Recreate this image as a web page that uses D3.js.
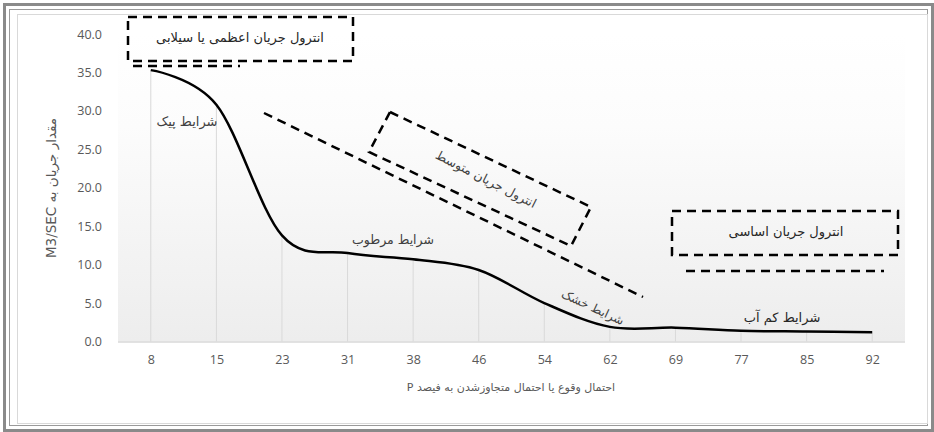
<!DOCTYPE html>
<html><head><meta charset="utf-8">
<script src="https://cdn.jsdelivr.net/npm/d3@7"></script>
<style>
html,body{margin:0;padding:0;background:#fff;}
svg{display:block;}
.fa{font-family:"DejaVu Sans",sans-serif;direction:rtl;unicode-bidi:embed;}
</style></head>
<body>
<svg id="chart" width="934" height="432"></svg>
<script>
// ---- data ----
const categories = ["8","15","23","31","38","46","54","62","69","77","85","92"];
const flow = [35.3, 30.8, 13.8, 11.5, 10.7, 9.3, 5.0, 1.9, 1.8, 1.4, 1.3, 1.2];
const yTicks = [0, 5, 10, 15, 20, 25, 30, 35, 40];
const yTitle = "مقدار جریان به M3/SEC";
const xTitle = "احتمال وقوع یا احتمال متجاوزشدن به فیصد P";
const zoneLabels = ["انترول جریان اعظمی یا سیلابی", "انترول جریان متوسط", "انترول جریان اساسی"];
const stateLabels = ["شرایط پیک", "شرایط مرطوب", "شرایط خشک", "شرایط کم آب"];

// ---- layout ----
const W = 934, H = 432;
const plot = {left:118, right:905, top:34, bottom:341.5};
const svg = d3.select("#chart");

// frame
svg.append("rect").attr("x",4.5).attr("y",4.5).attr("width",W-6).attr("height",H-6)
  .attr("fill","none").attr("stroke","#8a8a8a").attr("stroke-width",3);
svg.append("rect").attr("x",9.5).attr("y",9.5).attr("width",W-16).attr("height",H-16)
  .attr("fill","none").attr("stroke","#9a9a9a").attr("stroke-width",1);
svg.append("rect").attr("x",17.5).attr("y",14.5).attr("width",910).attr("height",409)
  .attr("fill","#fff").attr("stroke","#d9d9d9").attr("stroke-width",1);

// gradient
const defs = svg.append("defs");
const g = defs.append("linearGradient").attr("id","bg").attr("x1",0).attr("y1",0).attr("x2",0).attr("y2",1);
g.append("stop").attr("offset","0").attr("stop-color","#ffffff");
g.append("stop").attr("offset","0.3").attr("stop-color","#fcfcfc");
g.append("stop").attr("offset","1").attr("stop-color","#ededed");
svg.append("rect").attr("x",plot.left).attr("y",plot.top).attr("width",plot.right-plot.left)
  .attr("height",plot.bottom-plot.top).attr("fill","url(#bg)");

const x = d3.scaleBand().domain(categories).range([plot.left, plot.right]).padding(0);
const cx = c => x(c) + x.bandwidth()/2;
const y = d3.scaleLinear().domain([0,40]).range([plot.bottom, plot.top]);

const pts = categories.map((c,i)=>({c, v:flow[i]}));

// drop lines
svg.append("g").selectAll("line").data(pts).join("line")
  .attr("x1",d=>cx(d.c)).attr("x2",d=>cx(d.c))
  .attr("y1",d=>y(d.v)).attr("y2",plot.bottom)
  .attr("stroke","#d9d9d9").attr("stroke-width",1);

// x axis
const xAxis = d3.axisBottom(d3.scalePoint().domain(categories).range([cx(categories[0]), cx(categories[categories.length-1])]))
  .tickSize(0).tickPadding(14);
const xa = svg.append("g").attr("transform",`translate(0,${plot.bottom})`).call(xAxis);
xa.select(".domain").remove();
xa.selectAll("text").attr("fill","#595959").attr("font-family","'Open Sans',sans-serif").attr("font-size",12.5);
svg.append("line").attr("x1",plot.left).attr("x2",plot.right).attr("y1",plot.bottom+0.5).attr("y2",plot.bottom+0.5)
  .attr("stroke","#d9d9d9").attr("stroke-width",1.5);

// y axis
const yAxis = d3.axisLeft(y).tickValues(yTicks).tickFormat(d3.format(".1f")).tickSize(0).tickPadding(16);
const ya = svg.append("g").attr("transform",`translate(${plot.left},0)`).call(yAxis);
ya.select(".domain").remove();
ya.selectAll("text").attr("fill","#595959").attr("font-family","'Open Sans',sans-serif").attr("font-size",12.5);

// axis titles
svg.append("text").attr("class","fa").attr("transform","translate(56,188) rotate(-90)")
  .attr("text-anchor","middle").attr("fill","#595959").attr("font-size",13.5).text(yTitle);
svg.append("text").attr("class","fa").attr("x",511).attr("y",391)
  .attr("text-anchor","middle").attr("fill","#595959").attr("font-size",11).text(xTitle);

// curve
const line = d3.line().x(d=>cx(d.c)).y(d=>y(d.v)).curve(d3.curveCardinal.tension(0));
svg.append("path").datum(pts).attr("d",line).attr("fill","none")
  .attr("stroke","#000").attr("stroke-width",2.5);

// annotations
const dash = "9,6";
function dl(x1,y1,x2,y2){
  svg.append("line").attr("x1",x1).attr("y1",y1).attr("x2",x2).attr("y2",y2)
    .attr("stroke","#000").attr("stroke-width",2.5).attr("stroke-dasharray",dash);
}
function poly(p){
  svg.append("polygon").attr("points",p.map(q=>q.join(",")).join(" "))
    .attr("fill","none").attr("stroke","#000").attr("stroke-width",2.5).attr("stroke-dasharray",dash);
}
// top-left box
poly([[128,17],[353,17],[353,61],[128,61]]);
dl(133,66,240,66);
svg.append("text").attr("class","fa").attr("x",240).attr("y",42).attr("text-anchor","middle")
  .attr("fill","#262626").attr("font-size",13).text(zoneLabels[0]);

// diagonal line and rotated box
dl(264,113,643,297);
poly([[390,112],[591,207],[571,246],[369,152]]);
svg.append("text").attr("class","fa").attr("transform","translate(484,183) rotate(27)")
  .attr("text-anchor","middle").attr("fill","#404040").attr("font-size",12.5).text(zoneLabels[1]);

// right box
poly([[672,211],[898,211],[898,255],[672,255]]);
dl(686,271,884,271);
svg.append("text").attr("class","fa").attr("x",786).attr("y",236).attr("text-anchor","middle")
  .attr("fill","#262626").attr("font-size",13).text(zoneLabels[2]);

// state labels
svg.append("text").attr("class","fa").attr("x",187).attr("y",126).attr("text-anchor","middle")
  .attr("fill","#404040").attr("font-size",13).text(stateLabels[0]);
svg.append("text").attr("class","fa").attr("x",393).attr("y",244).attr("text-anchor","middle")
  .attr("fill","#404040").attr("font-size",12.5).text(stateLabels[1]);
svg.append("text").attr("class","fa").attr("transform","translate(591,311) rotate(25)")
  .attr("text-anchor","middle").attr("fill","#404040").attr("font-size",12).text(stateLabels[2]);
svg.append("text").attr("class","fa").attr("x",782).attr("y",322).attr("text-anchor","middle")
  .attr("fill","#262626").attr("font-size",13).text(stateLabels[3]);
</script>
</body></html>
